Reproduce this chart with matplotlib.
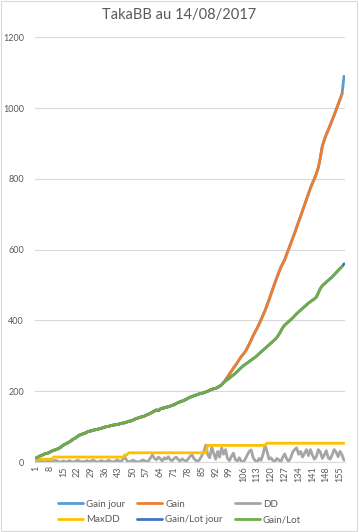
import numpy as np
import matplotlib
matplotlib.use("Agg")
import matplotlib.pyplot as plt
from matplotlib.patches import Rectangle

plt.rcParams['font.family'] = ['Lato', 'DejaVu Sans']

TITLE = "TakaBB au 14/08/2017"
# Gain/Lot (days 1..156), Gain/Lot jour adds day 157
gain_lot = [11, 14, 17, 19, 22, 24, 25, 28, 31, 33,
            35, 37, 40, 44, 48, 51, 54, 57, 61, 65,
            68, 72, 76, 78, 80, 82, 85, 87, 88, 90,
            91, 92, 94, 95, 97, 99, 100, 101, 103, 104,
            105, 106, 107, 109, 110, 111, 113, 115, 116, 118,
            121, 123, 125, 127, 128, 130, 133, 135, 138, 141,
            144, 147, 145, 150, 152, 153, 155, 156, 158, 160,
            162, 165, 168, 170, 172, 174, 177, 180, 183, 185,
            187, 189, 191, 193, 194, 196, 198, 200, 203, 205,
            207, 208, 211, 214, 218, 224, 229, 233, 237, 242,
            246, 251, 256, 262, 267, 272, 276, 280, 284, 288,
            292, 296, 301, 306, 311, 316, 321, 326, 331, 336,
            341, 346, 352, 360, 370, 380, 387, 392, 397, 402,
            407, 413, 419, 424, 429, 434, 439, 444, 449, 453,
            457, 461, 466, 478, 490, 498, 503, 508, 513, 518,
            523, 529, 535, 541, 547, 552]
gain_lot_jour_last = 560
# Gain: same as Gain/Lot up to day 96, then these (days 97..156)
gain_after = [232, 240, 249, 257, 265, 273, 281, 290, 298, 305,
              312, 322, 333, 345, 357, 368, 378, 390, 402, 415,
              428, 443, 458, 474, 490, 506, 521, 536, 550, 561,
              572, 588, 602, 617, 632, 647, 663, 679, 694, 710,
              726, 742, 758, 774, 788, 800, 815, 832, 860, 892,
              910, 925, 938, 952, 966, 980, 995, 1010, 1025, 1040]
gain_split_day = 96
gain_jour_last = 1090
dd = [0, 2, 5, 3, 0, 1, 4, 2, 0, 3,
      5, 2, 0, 1, 3, 0, 2, 4, 1, 0,
      2, 5, 3, 0, 1, 2, 4, 0, 3, 6,
      2, 0, 1, 4, 2, 0, 3, 5, 1, 0,
      2, 6, 3, 0, 8, 14, 4, 0, 2, 5,
      3, 1, 0, 2, 6, 4, 0, 3, 12, 20,
      10, 6, 14, 9, 3, 12, 8, 15, 6, 4,
      10, 14, 7, 3, 9, 5, 2, 8, 16, 20,
      10, 4, 2, 8, 18, 30, 48, 20, 12, 42,
      25, 8, 30, 14, 40, 22, 35, 10, 4, 16,
      25, 6, 3, 12, 2, 0, 8, 20, 30, 34,
      12, 4, 0, 10, 5, 22, 48, 30, 8, 12,
      4, 2, 10, 6, 0, 14, 23, 8, 2, 12,
      28, 35, 40, 22, 30, 14, 25, 35, 18, 35,
      20, 8, 15, 35, 28, 10, 20, 32, 12, 8,
      20, 35, 28, 15, 30, 20, 5]
# MaxDD step levels and how many days each lasts
maxdd_levels = [8, 14, 20, 26, 47, 53]
maxdd_days = [9, 36, 2, 40, 30, 40]

gain = gain_lot[:gain_split_day] + gain_after
gain_jour = gain + [gain_jour_last]
gain_lot_jour = gain_lot + [gain_lot_jour_last]
maxdd = list(np.repeat(maxdd_levels, maxdd_days))
n = len(gain_jour)

C_TXT = "#595959"
C_GRID = "#d9d9d9"

fig = plt.figure(figsize=(3.59, 5.32), dpi=100)
ax = fig.add_axes([35/359, 70/532, 310/359, 424.7/532])
days = np.arange(1, n + 1)
lw = 2.0
series = [("Gain jour", gain_jour, "#5B9BD5"),
          ("Gain", gain, "#ED7D31"),
          ("DD", dd, "#A5A5A5"),
          ("MaxDD", maxdd, "#FFC000"),
          ("Gain/Lot jour", gain_lot_jour, "#4472C4"),
          ("Gain/Lot", gain_lot, "#70AD47")]
handles = []
for name, vals, col in series:
    h, = ax.plot(days[:len(vals)], vals, color=col, lw=lw, label=name,
                 solid_joinstyle="round", solid_capstyle="round")
    handles.append(h)

ax.set_xlim(0.5, n + 0.5)
ax.set_ylim(0, 1200)
ax.set_yticks(range(0, 1201, 200))
ax.set_xticks(range(1, n + 1, 7))
ax.tick_params(axis="y", length=0, labelsize=6.5, colors=C_TXT, pad=8)
ax.tick_params(axis="x", length=0, labelsize=6.5, colors=C_TXT, rotation=90, pad=3)
ax.grid(axis="y", color=C_GRID, lw=0.8)
ax.set_axisbelow(True)
for s in ["top", "right", "left"]:
    ax.spines[s].set_visible(False)
ax.spines["bottom"].set_color(C_GRID)

fig.text(0.5, 1 - 15/532, TITLE, ha="center", va="center", fontsize=10.5, color=C_TXT)

order = [0, 3, 1, 4, 2, 5]
leg = fig.legend([handles[i] for i in order], [series[i][0] for i in order],
                 ncol=3, loc="center", bbox_to_anchor=(0.5, 1 - 512/532),
                 frameon=False, fontsize=7, labelcolor=C_TXT,
                 handlelength=2.6, handletextpad=0.3, columnspacing=1.2,
                 labelspacing=0.7)

fig.patches.append(Rectangle((0.002, 0.002), 0.992, 0.996, transform=fig.transFigure,
                             fill=False, edgecolor=C_GRID, lw=0.8))
fig.savefig("out.png", dpi=100)
